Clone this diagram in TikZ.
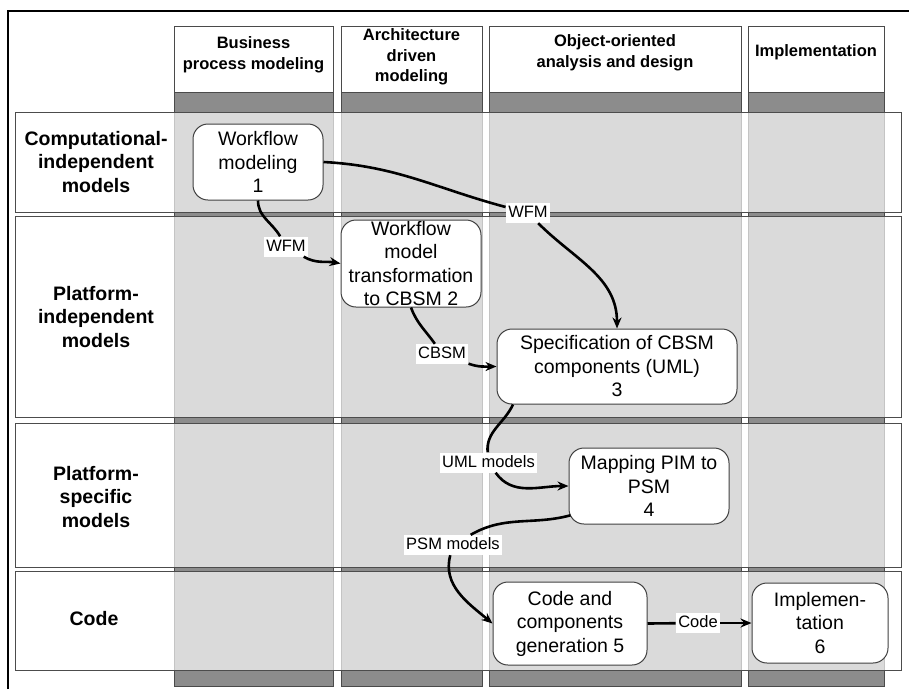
\documentclass[tikz,border=0pt]{standalone}
\usepackage{fontspec}
\setmainfont{Liberation Sans}
\usetikzlibrary{arrows.meta}

\definecolor{bandgray}{HTML}{8C8C8C}
\definecolor{edgegray}{HTML}{4A4A4A}

\begin{document}
\begin{tikzpicture}[x=1pt,y=1pt,
  lane/.style={fill=bandgray, draw=edgegray, line width=1pt},
  lanehead/.style={fill=white, draw=edgegray, line width=1pt},
  band/.style={fill=white, fill opacity=0.68, draw=black!70, line width=0.9pt},
  headtxt/.style={font=\bfseries\fontsize{16.5}{20.5}\selectfont, align=center, inner sep=0pt},
  rowtxt/.style={font=\bfseries\fontsize{19.5}{23.5}\selectfont, align=center, inner sep=0pt},
  proc/.style={draw=black!75, line width=1pt, fill=white, rounded corners=15pt,
    align=center, inner sep=0pt, font=\fontsize{19.5}{23.5}\selectfont},
  lbl/.style={fill=white, inner sep=2.5pt, text height=12pt, text depth=3pt,
    font=\fontsize{16.5}{19}\selectfont},
  flow/.style={line width=2.6pt, black},
  arr/.style={flow, -{Stealth[length=11pt,width=9pt]}}
]
\useasboundingbox (0,0) rectangle (909,-689);

% outer frame
\draw[line width=1.5pt] (8,-689) |- (909,-11);

% column bodies (dark), later lightened by the rows
\draw[lane] (174,-92) rectangle (333,-686);
\draw[lane] (341,-92) rectangle (482,-686);
\draw[lane] (489,-92) rectangle (741,-686);
\draw[lane] (748,-92) rectangle (884,-686);

% rows
\draw[band] (15,-112) rectangle (901,-212);
\draw[band] (15,-216) rectangle (901,-417);
\draw[band] (15,-423) rectangle (901,-567);
\draw[band] (15,-571) rectangle (901,-670);

% column headers
\draw[lanehead] (174,-26) rectangle (333,-92);
\draw[lanehead] (341,-26) rectangle (482,-92);
\draw[lanehead] (489,-26) rectangle (741,-92);
\draw[lanehead] (748,-26) rectangle (884,-92);

\node[headtxt] (h1) at (253.5,-55) {Business\\process modeling};
\node[headtxt] (h2) at (411.5,-57) {Architecture\\driven\\modeling};
\node[headtxt] (h3) at (615,-53) {Object-oriented\\analysis and design};
\node[headtxt] (h4) at (816,-52) {Implementation};

% row titles
\node[rowtxt] (r1) at (96,-162) {Computational-\\independent\\models};
\node[rowtxt] (r2) at (96,-317) {Platform-\\independent\\models};
\node[rowtxt] (r3) at (96,-497) {Platform-\\specific\\models};
\node[rowtxt] (r4) at (94,-619) {Code};

% process steps
\node[proc, minimum width=130pt, minimum height=76pt] (n1) at (258,-162)
  {Workflow\\modeling\\1};
\node[proc, minimum width=140pt, minimum height=87pt] (n2) at (411,-263.5)
  {Workflow\\model\\transformation\\to CBSM 2};
\node[proc, minimum width=240pt, minimum height=75pt] (n3) at (617,-366.5)
  {Specification of CBSM\\components (UML)\\3};
\node[proc, minimum width=160pt, minimum height=76pt] (n4) at (649,-486)
  {Mapping PIM to\\PSM\\4};
\node[proc, minimum width=154pt, minimum height=83pt] (n5) at (570,-623.5)
  {Code and\\components\\generation 5};
\node[proc, minimum width=136pt, minimum height=80pt] (n6) at (820,-623)
  {Implemen-\\tation\\6};

% connector labels
\node[lbl] (l1) at (286,-246.5) {WFM};
\node[lbl] (l2) at (528,-213) {WFM};
\node[lbl] (l3) at (442,-354) {CBSM};
\node[lbl] (l4) at (488.5,-462.5) {UML models};
\node[lbl] (l5) at (453,-545) {PSM models};
\node[lbl] (l6) at (698,-623) {Code};

% connectors
\draw[flow] (n1.south) to[out=-90, in=120] (l1);
\draw[arr]  (l1) to[out=-30, in=170] (n2.west);

\draw[flow] (n1.east) to[out=-3, in=165] (l2);
\draw[arr]  (l2) to[out=-45, in=90] (n3.north);

\draw[flow] (n2.south) to[out=-70, in=125] (l3);
\draw[arr]  (l3) to[out=-20, in=180] (n3.west);

\draw[flow] ([xshift=-104pt]n3.south) to[out=-115, in=95] (l4);
\draw[arr]  (l4) to[out=-55, in=180] (n4.west);

\draw[flow] ([xshift=2pt]n4.-160) to[out=195, in=30] (l5);
\draw[arr]  (l5) to[out=-105, in=140] (n5.west);

\draw[flow] (n5.east) -- (l6);
\draw[arr]  (l6) -- (n6.west);
\end{tikzpicture}
\end{document}
